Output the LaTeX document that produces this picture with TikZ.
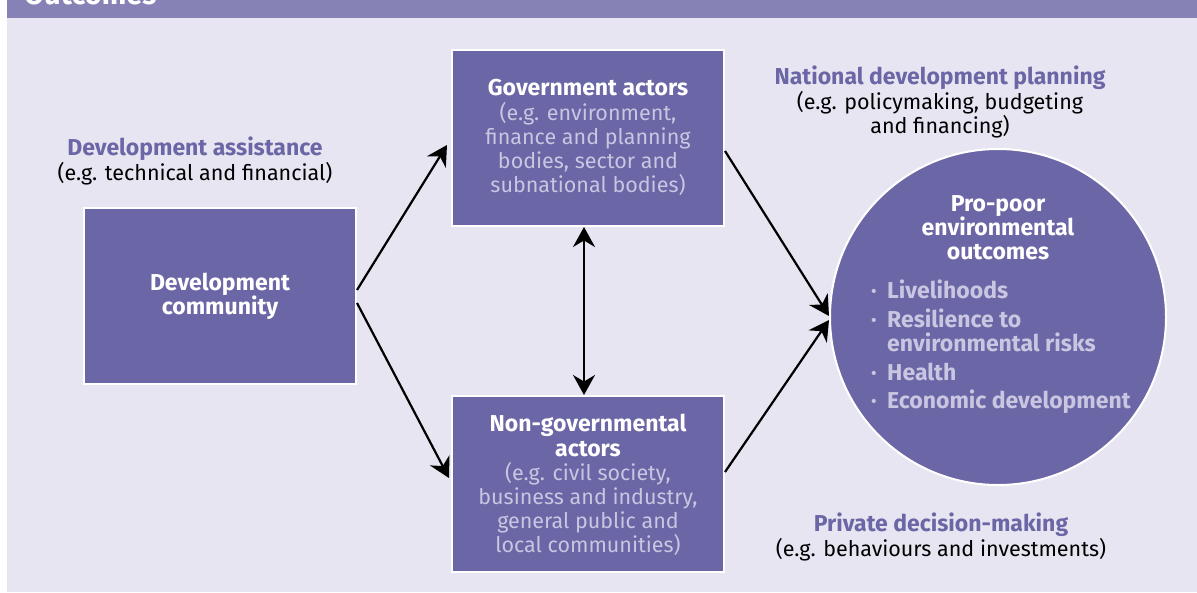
\documentclass[tikz,border=0pt]{standalone}
\usepackage{fontspec}
\setmainfont{Fira Sans}
\usetikzlibrary{arrows.meta}
\definecolor{hdr}{HTML}{8682B5}
\definecolor{bgc}{HTML}{E7E5F1}
\definecolor{boxc}{HTML}{6B66A5}
\definecolor{subc}{HTML}{C9C6E2}
\definecolor{ttl}{HTML}{6B66A5}
\newcommand{\rsz}{\fontsize{21.5}{24.2}\selectfont}
\newcommand{\bsz}{\fontsize{23}{24.2}\selectfont\bfseries}
\newcommand{\bt}[1]{{\bsz #1}}
\tikzset{
  actor/.style={draw=white, line width=2pt, fill=boxc, minimum width=272pt, minimum height=176pt, inner sep=0pt},
  bodytext/.style={font=\rsz, align=center, text=white},
  lbl/.style={font=\rsz, align=center, text=black},
  link/.style={line width=2.2pt, -{Stealth[length=20pt,width=22pt]}},
}
\begin{document}
\begin{tikzpicture}[x=1pt,y=-1pt]
\useasboundingbox (0,0) rectangle (1197,592);
\fill[bgc] (7,18) rectangle (1197,592);
\fill[hdr] (7,0) rectangle (1197,18);
\node[anchor=base west, inner sep=0pt, text=white, font=\fontsize{29}{30}\selectfont\bfseries] (hdrtext) at (24,4) {Outcomes};

\node[actor] (dev) at (220,296) {};
\node[bodytext, font=\bsz] (devtext) at (220,296) {Development\\community};

\node[actor] (gov) at (588,138) {};
\node[bodytext, anchor=north] (govtext) at (588,76) {\bt{Government actors}\\\color{subc}(e.g. environment,\\\color{subc}finance and planning\\\color{subc}bodies, sector and\\\color{subc}subnational bodies)};

\node[actor] (ngo) at (588,484) {};
\node[bodytext, anchor=north] (ngotext) at (588,411) {\bt{Non-governmental}\\\bt{actors}\\\color{subc}(e.g. civil society,\\\color{subc}business and industry,\\\color{subc}general public and\\\color{subc}local communities)};

\node[circle, draw=white, line width=2pt, fill=boxc, minimum size=336pt, inner sep=0pt] (out) at (998,317) {};
\node[bodytext, font=\bsz, anchor=north] (outtitle) at (998,192) {Pro-poor\\environmental\\outcomes};
\node[anchor=north west, inner sep=0pt, text=subc, align=left, font=\bsz] (outlist) at (871,280) {%
\makebox[16pt][l]{\textperiodcentered}Livelihoods\\[4pt]
\makebox[16pt][l]{\textperiodcentered}Resilience to\\
\makebox[16pt][l]{}environmental risks\\[5pt]
\makebox[16pt][l]{\textperiodcentered}Health\\[4pt]
\makebox[16pt][l]{\textperiodcentered}Economic development};

\node[lbl] (da) at (195,161) {\textcolor{ttl}{\bt{Development assistance}}\\(e.g. technical and financial)};
\node[lbl] (ndp) at (940,102) {\textcolor{ttl}{\bt{National development planning}}\\(e.g. policymaking, budgeting\\and financing)};
\node[lbl] (pdm) at (941,537) {\textcolor{ttl}{\bt{Private decision-making}}\\(e.g. behaviours and investments)};

\draw[link] ([yshift=6pt]dev.east) -- ([xshift=-4pt,yshift=-7pt]gov.west);
\draw[link] ([yshift=-7pt]dev.east) -- ([xshift=-2pt,yshift=6pt]ngo.west);
\draw[link] ([yshift=-13pt]gov.east) -- ([yshift=1pt]out.west);
\draw[link] ([yshift=12pt]ngo.east) -- ([yshift=-3pt]out.west);
\draw[line width=2.2pt, {Stealth[length=20pt,width=22pt]}-{Stealth[length=20pt,width=22pt]}] ([xshift=-4pt]gov.south) -- ([xshift=-4pt]ngo.north);
\end{tikzpicture}
\end{document}
